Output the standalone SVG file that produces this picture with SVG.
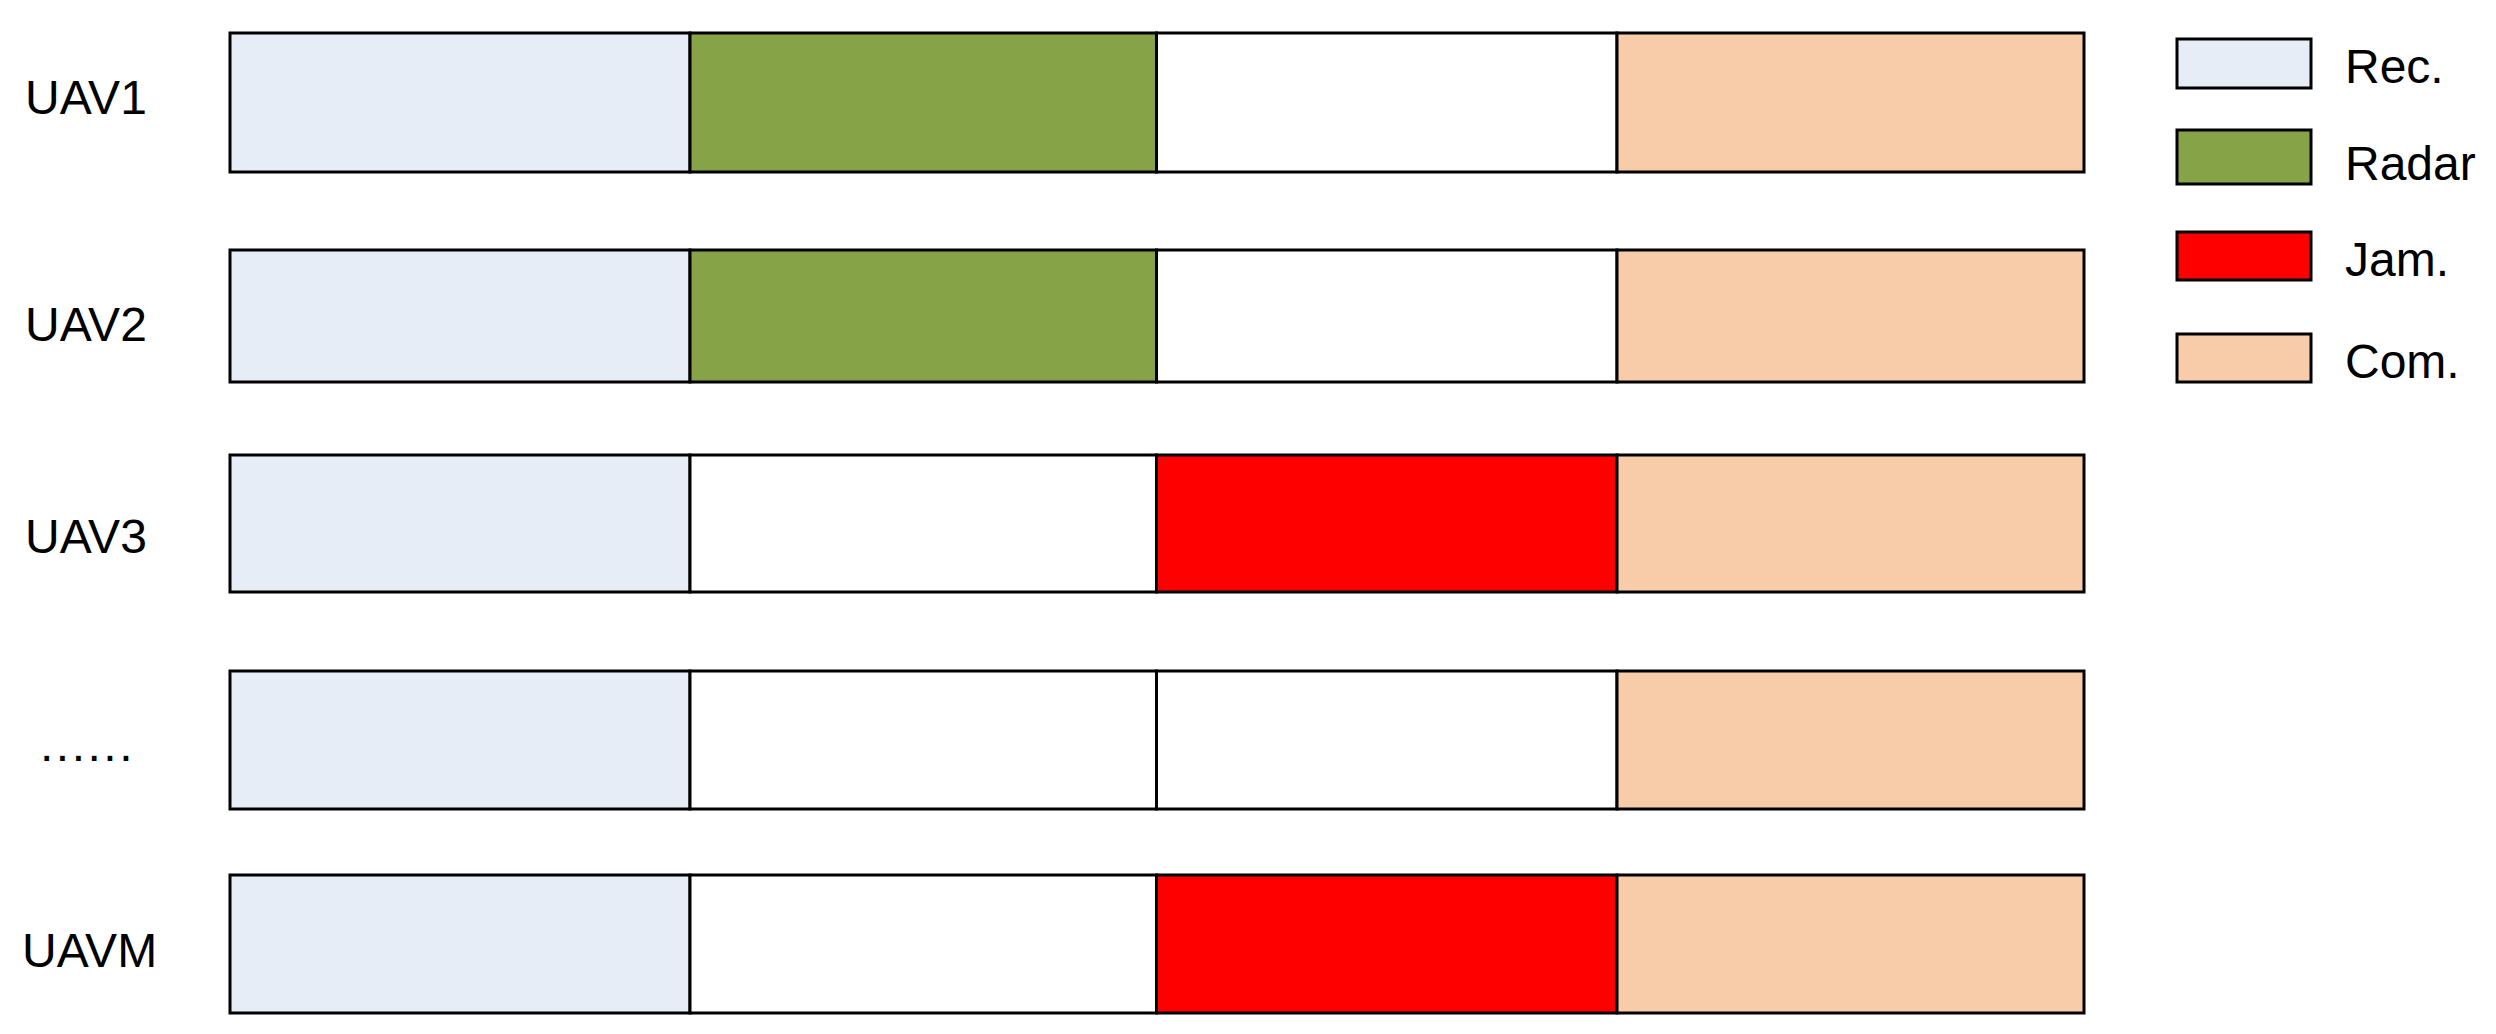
<svg xmlns="http://www.w3.org/2000/svg" width="2496" height="1034" viewBox="0 0 2496 1034">
<style>
rect{stroke:#000;stroke-width:3}
.rec{fill:#E6EDF7}.radar{fill:#86A447}.jam{fill:#FF0000}.com{fill:#F8CCA8}.none{fill:#FFFFFF}
text{font-family:"Liberation Sans",Arial,sans-serif;font-size:48px;fill:#000}
</style>
<rect x="0" y="0" width="2496" height="1034" fill="#fff" style="stroke:none"/>
<g id="uav1">
<text x="25" y="114">UAV1</text>
<rect class="rec" x="230" y="33" width="460" height="139"/>
<rect class="radar" x="690" y="33" width="466.5" height="139"/>
<rect class="none" x="1156.5" y="33" width="460.5" height="139"/>
<rect class="com" x="1617" y="33" width="467" height="139"/>
</g>
<g id="uav2">
<text x="25" y="341">UAV2</text>
<rect class="rec" x="230" y="250" width="460" height="132"/>
<rect class="radar" x="690" y="250" width="466.5" height="132"/>
<rect class="none" x="1156.5" y="250" width="460.5" height="132"/>
<rect class="com" x="1617" y="250" width="467" height="132"/>
</g>
<g id="uav3">
<text x="25" y="553">UAV3</text>
<rect class="rec" x="230" y="455" width="460" height="137"/>
<rect class="none" x="690" y="455" width="466.5" height="137"/>
<rect class="jam" x="1156.5" y="455" width="460.5" height="137"/>
<rect class="com" x="1617" y="455" width="467" height="137"/>
</g>
<g id="uav-dots">
<text x="40" y="761" letter-spacing="2.5">......</text>
<rect class="rec" x="230" y="671" width="460" height="138"/>
<rect class="none" x="690" y="671" width="466.5" height="138"/>
<rect class="none" x="1156.5" y="671" width="460.5" height="138"/>
<rect class="com" x="1617" y="671" width="467" height="138"/>
</g>
<g id="uavm">
<text x="22" y="967">UAVM</text>
<rect class="rec" x="230" y="875" width="460" height="138"/>
<rect class="none" x="690" y="875" width="466.5" height="138"/>
<rect class="jam" x="1156.5" y="875" width="460.5" height="138"/>
<rect class="com" x="1617" y="875" width="467" height="138"/>
</g>
<g id="legend">
<g id="legend-rec"><rect class="rec" x="2177" y="39" width="134" height="49"/><text x="2345" y="83">Rec.</text></g>
<g id="legend-radar"><rect class="radar" x="2177" y="130" width="134" height="54"/><text x="2345" y="180">Radar</text></g>
<g id="legend-jam"><rect class="jam" x="2177" y="232" width="134" height="48"/><text x="2345" y="276">Jam.</text></g>
<g id="legend-com"><rect class="com" x="2177" y="334" width="134" height="48"/><text x="2345" y="378">Com.</text></g>
</g>
<g id="connectors"></g>
</svg>
